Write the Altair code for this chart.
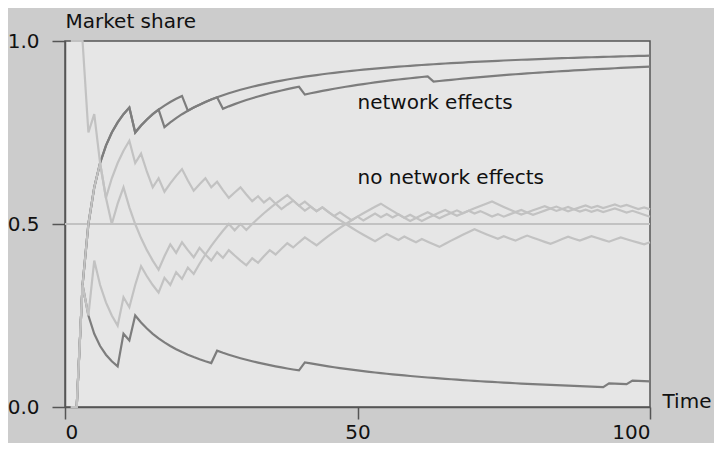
import altair as alt
import pandas as pd

# time steps
steps = list(range(1, 101))

# cumulative number of adopters of technology A at each time step
net_upper = [0, 0, 1, 2, 3, 4, 5, 6, 7, 8,
             9, 9, 10, 11, 12, 13, 14, 15, 16, 17,
             17, 18, 19, 20, 21, 22, 23, 24, 25, 26,
             27, 28, 29, 30, 31, 32, 33, 34, 35, 36,
             37, 38, 39, 40, 41, 42, 43, 44, 45, 46,
             47, 48, 49, 50, 51, 52, 53, 54, 55, 56,
             57, 58, 59, 60, 61, 62, 63, 64, 65, 66,
             67, 68, 69, 70, 71, 72, 73, 74, 75, 76,
             77, 78, 79, 80, 81, 82, 83, 84, 85, 86,
             87, 88, 89, 90, 91, 92, 93, 94, 95, 96]
net_middle = [0, 0, 1, 2, 3, 4, 5, 6, 7, 8,
              9, 9, 10, 11, 12, 13, 13, 14, 15, 16,
              17, 18, 19, 20, 21, 22, 22, 23, 24, 25,
              26, 27, 28, 29, 30, 31, 32, 33, 34, 35,
              35, 36, 37, 38, 39, 40, 41, 42, 43, 44,
              45, 46, 47, 48, 49, 50, 51, 52, 53, 54,
              55, 56, 56, 57, 58, 59, 60, 61, 62, 63,
              64, 65, 66, 67, 68, 69, 70, 71, 72, 73,
              74, 75, 76, 77, 78, 79, 80, 81, 82, 83,
              84, 85, 86, 87, 88, 89, 90, 91, 92, 93]
net_lower = [0, 0, 1, 1, 1, 1, 1, 1, 1, 2,
             2, 3, 3, 3, 3, 3, 3, 3, 3, 3,
             3, 3, 3, 3, 3, 4, 4, 4, 4, 4,
             4, 4, 4, 4, 4, 4, 4, 4, 4, 4,
             5, 5, 5, 5, 5, 5, 5, 5, 5, 5,
             5, 5, 5, 5, 5, 5, 5, 5, 5, 5,
             5, 5, 5, 5, 5, 5, 5, 5, 5, 5,
             5, 5, 5, 5, 5, 5, 5, 5, 5, 5,
             5, 5, 5, 5, 5, 5, 5, 5, 5, 5,
             5, 5, 6, 6, 6, 6, 7, 7, 7, 7]

nonet_a = [0, 0, 1, 2, 3, 4, 4, 5, 6, 7,
           8, 8, 9, 9, 9, 10, 10, 11, 12, 13,
           13, 13, 14, 15, 15, 16, 16, 16, 17, 18,
           18, 18, 19, 19, 20, 20, 20, 21, 22, 22,
           22, 23, 23, 24, 24, 24, 25, 25, 25, 26,
           26, 27, 28, 28, 29, 29, 30, 30, 31, 31,
           32, 33, 33, 34, 35, 35, 36, 36, 37, 37,
           38, 38, 38, 39, 39, 40, 41, 41, 42, 43,
           44, 45, 45, 46, 46, 47, 47, 48, 49, 49,
           50, 50, 51, 52, 52, 53, 53, 53, 54, 54]
nonet_b = [1, 2, 3, 3, 4, 4, 4, 4, 5, 6,
           6, 6, 6, 6, 6, 6, 7, 8, 8, 9,
           9, 9, 10, 10, 10, 11, 11, 12, 12, 12,
           12, 13, 13, 14, 15, 15, 16, 17, 17, 18,
           19, 19, 19, 20, 21, 22, 23, 24, 25, 26,
           27, 28, 29, 30, 30, 30, 30, 30, 30, 31,
           31, 32, 33, 33, 34, 35, 35, 36, 37, 38,
           39, 40, 41, 41, 41, 41, 41, 42, 42, 42,
           43, 44, 45, 45, 46, 46, 47, 47, 48, 48,
           49, 49, 50, 51, 51, 51, 52, 52, 52, 52]
nonet_c = [0, 0, 1, 1, 2, 2, 2, 2, 2, 3,
           3, 4, 5, 5, 5, 5, 6, 6, 7, 7,
           8, 8, 9, 10, 11, 12, 13, 14, 14, 15,
           15, 16, 17, 18, 19, 20, 21, 22, 22, 22,
           23, 23, 23, 24, 24, 24, 24, 24, 24, 24,
           24, 24, 24, 25, 26, 26, 26, 27, 27, 27,
           28, 28, 28, 28, 29, 30, 31, 32, 33, 34,
           34, 34, 34, 34, 35, 35, 35, 36, 37, 37,
           37, 37, 37, 38, 39, 40, 40, 40, 41, 42,
           42, 42, 42, 43, 44, 44, 44, 44, 44, 45]

reference_share = [0.5]
label_texts = ["network effects", "no network effects"]
label_t = [50, 50]
label_share = [0.83, 0.625]

FONT = "DejaVu Sans"
DARK = "#7d7d7d"
LIGHT = "#c2c2c2"
AXIS = "#555555"


def long_frame(series):
    rows = []
    for name, counts in series:
        for ti, k in zip(steps, counts):
            rows.append({"t": ti, "k": k, "run": name})
    return pd.DataFrame(rows)


dark_df = long_frame([("net_upper", net_upper), ("net_middle", net_middle), ("net_lower", net_lower)])
light_df = long_frame([("nonet_a", nonet_a), ("nonet_b", nonet_b), ("nonet_c", nonet_c)])

x_enc = alt.X(
    "t:Q",
    scale=alt.Scale(domain=[0, 100], nice=False, zero=False),
    axis=alt.Axis(
        values=[0, 50, 100], format="d", title="Time",
        titleX=597, titleY=0, titleAlign="left", titleBaseline="alphabetic",
        titleAnchor="start", tickSize=12, labelPadding=3,
    ),
)
y_enc = alt.Y(
    "share:Q",
    scale=alt.Scale(domain=[0, 1], nice=False),
    axis=alt.Axis(
        values=[0, 0.5, 1], format=".1f", title="Market share",
        titleAngle=0, titleX=0, titleY=-14, titleAlign="left",
        titleBaseline="alphabetic", titleAnchor="start",
        tickSize=13, labelPadding=13,
    ),
)

ref = alt.Chart(pd.DataFrame({"share": reference_share})).mark_rule(
    color=LIGHT, strokeWidth=2
).encode(y=y_enc)

dark = alt.Chart(dark_df).transform_calculate(
    share="datum.k / datum.t"
).mark_line(color=DARK, strokeWidth=2.2, strokeJoin="miter").encode(
    x=x_enc, y=y_enc, detail="run:N", order="t:Q"
)

light = alt.Chart(light_df).transform_calculate(
    share="datum.k / datum.t"
).mark_line(color=LIGHT, strokeWidth=2.2, strokeJoin="miter").encode(
    x=x_enc, y=y_enc, detail="run:N", order="t:Q"
)

labels = alt.Chart(
    pd.DataFrame({"t": label_t, "share": label_share, "label": label_texts})
).mark_text(
    align="left", baseline="middle", font=FONT, fontSize=20, color="#111111"
).encode(x=x_enc, y=y_enc, text="label:N")

chart = alt.layer(ref, dark, light, labels).properties(
    width=585,
    height=366,
    background="#cccccc",
    padding={"left": 57, "top": 33, "right": 64, "bottom": 36},
    autosize=alt.AutoSizeParams(type="none"),
).configure_view(
    fill="#e6e6e6", stroke=AXIS, strokeWidth=1.5
).configure_axis(
    grid=False,
    domainColor=AXIS,
    domainWidth=1.5,
    tickColor=AXIS,
    tickWidth=1.5,
    labelFont=FONT,
    labelFontSize=20,
    labelColor="#111111",
    titleFont=FONT,
    titleFontSize=20,
    titleFontWeight="normal",
    titleColor="#111111",
)

chart.save("out.html", embed_options={"renderer": "svg", "actions": False})
